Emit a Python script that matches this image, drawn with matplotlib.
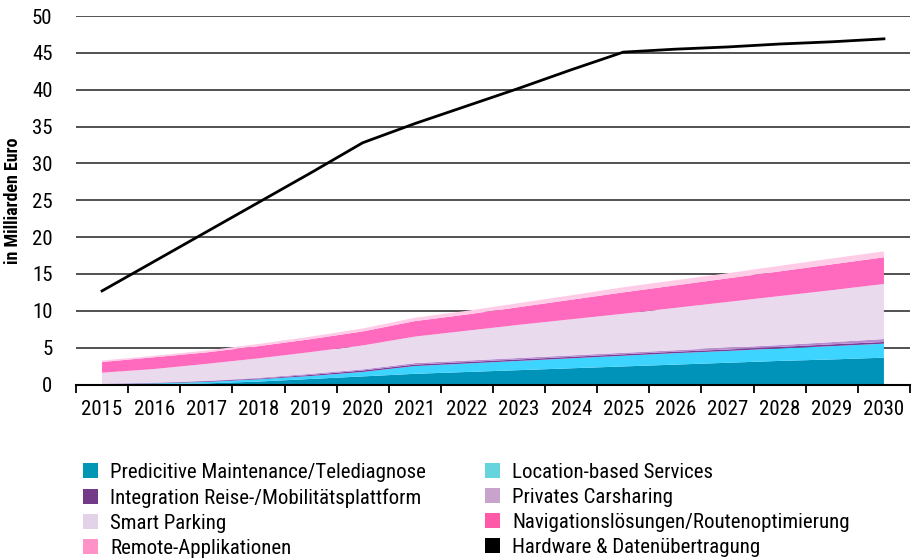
import matplotlib
matplotlib.use("Agg")
import matplotlib.pyplot as plt
from matplotlib.patches import Patch
import numpy as np

plt.rcParams['font.family'] = ['Roboto Condensed', 'Archivo Narrow', 'Barlow Semi Condensed', 'DejaVu Sans']

years = [str(y) for y in range(2015, 2031)]

predictive = [0.0, 0.05, 0.15, 0.4, 0.75, 1.1, 1.45, 1.7, 1.95, 2.2, 2.45, 2.7, 2.95, 3.2, 3.4, 3.64]
location = [0.05, 0.1, 0.2, 0.3, 0.4, 0.6, 1.05, 1.15, 1.25, 1.35, 1.45, 1.55, 1.6, 1.7, 1.8, 1.9]
integration = [0.03, 0.05, 0.1, 0.1, 0.15, 0.2, 0.2, 0.2, 0.2, 0.2, 0.2, 0.2, 0.2, 0.2, 0.25, 0.23]
carsharing = [0.02, 0.05, 0.05, 0.1, 0.15, 0.15, 0.2, 0.2, 0.2, 0.2, 0.2, 0.2, 0.25, 0.25, 0.3, 0.4]
smart_parking = [1.5, 1.85, 2.3, 2.65, 2.95, 3.25, 3.6, 4.05, 4.5, 4.9, 5.3, 5.75, 6.2, 6.65, 7.05, 7.47]
navigation = [1.45, 1.6, 1.55, 1.65, 1.75, 1.9, 2.1, 2.2, 2.4, 2.65, 2.9, 3.05, 3.2, 3.35, 3.5, 3.62]
remote = [0.2, 0.2, 0.25, 0.3, 0.35, 0.4, 0.45, 0.5, 0.55, 0.6, 0.7, 0.7, 0.7, 0.75, 0.8, 0.81]
hardware = [12.7, 16.7, 20.7, 24.7, 28.7, 32.8, 35.4, 37.8, 40.2, 42.7, 45.1, 45.5, 45.8, 46.2, 46.5, 46.9]

labels = ["Predicitive Maintenance/Telediagnose", "Location-based Services",
          "Integration Reise-/Mobilitätsplattform", "Privates Carsharing",
          "Smart Parking", "Navigationslösungen/Routenoptimierung",
          "Remote-Applikationen", "Hardware & Datenübertragung"]

area_colors = ["#0093BA", "#3DD5FF", "#7A3C96", "#B98CD2", "#E9DAEE", "#FF69BE", "#FFCCE8"]
legend_colors = ["#0096B4", "#66D4DC", "#733A8A", "#C8A4CC", "#E2D3E8", "#FF5AA8", "#FF93C8", "#000000"]

fig = plt.figure(figsize=(9.16, 5.6), dpi=100)
ax = fig.add_axes([76/916, 1-384.5/560, (910-76)/916, (384.5-16)/560])

x = np.arange(len(years))
ax.stackplot(x, predictive, location, integration, carsharing, smart_parking, navigation, remote,
             colors=area_colors, linewidth=0, zorder=2)
ax.plot(x, hardware, color="black", linewidth=2, zorder=3)

ax.set_xlim(-0.5, len(years) - 0.5)
ax.set_ylim(0, 50)
ax.set_yticks(range(0, 51, 5))
ax.yaxis.grid(True, color="#333333", linewidth=1.2, zorder=0)
ax.set_axisbelow(True)
for s in ["top", "right", "left"]:
    ax.spines[s].set_visible(False)
ax.spines["bottom"].set_linewidth(1.5)
ax.spines["bottom"].set_zorder(4)

ax.set_xticks(x)
ax.set_xticklabels(years)
ax.set_xticks(np.arange(-0.5, len(years)), minor=True)
ax.tick_params(axis="x", which="major", length=0, pad=11, labelsize=15)
ax.tick_params(axis="x", which="minor", length=6, width=1.3, direction="out")
ax.tick_params(axis="y", length=0, pad=17, labelsize=15)

ax.set_ylabel("in Milliarden Euro", fontsize=13, fontweight="bold", labelpad=7)

handles = [Patch(facecolor=c, edgecolor="none") for c in legend_colors]
order = [0, 2, 4, 6, 1, 3, 5, 7]
fig.legend([handles[i] for i in order], [labels[i] for i in order],
           loc="upper left", bbox_to_anchor=(83/916, 1-463/560), ncol=2,
           frameon=False, fontsize=15, handlelength=0.72, handleheight=0.72,
           handletextpad=0.58, labelspacing=0.29, columnspacing=2.85,
           borderpad=0, borderaxespad=0)

fig.savefig("out.png", dpi=100)
